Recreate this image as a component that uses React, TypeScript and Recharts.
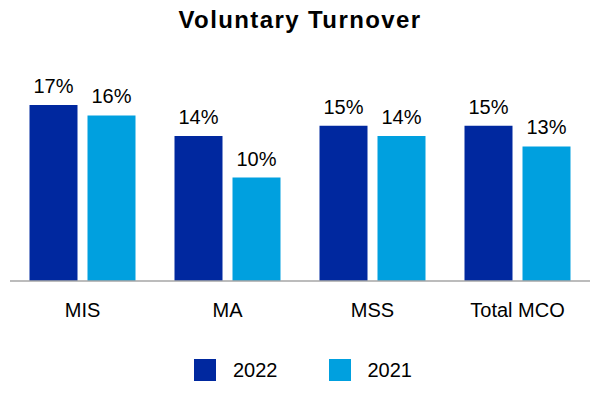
import React from "react"
import {
  BarChart,
  Bar,
  XAxis,
  YAxis,
  Legend,
  LabelList,
} from "recharts"

const categories = ["MIS", "MA", "MSS", "Total MCO"]
const values2022 = [17, 14, 15, 15]
const values2021 = [16, 10, 14, 13]
const seriesNames = ["2022", "2021"]
const seriesColors = ["#00289F", "#00A0DF"]

const data = categories.map((name, i) => ({
  name,
  y2022: values2022[i],
  y2021: values2021[i],
}))

const font = "'Liberation Sans', Arial, sans-serif"

function LegendContent() {
  return (
    <div
      style={{
        height: 40,
        display: "flex",
        alignItems: "center",
        justifyContent: "center",
        paddingLeft: 6,
        fontFamily: font,
        fontSize: 20,
        color: "#000",
      }}
    >
      {seriesNames.map((s, i) => (
        <div
          key={s}
          style={{ display: "flex", alignItems: "center", marginLeft: i === 0 ? 0 : 51 }}
        >
          <span
            style={{
              width: 22,
              height: 22,
              background: seriesColors[i],
              display: "inline-block",
              marginRight: 17,
            }}
          />
          <span>{s}</span>
        </div>
      ))}
    </div>
  )
}

export default function App() {
  return (
    <div style={{ position: "absolute", left: 0, top: 0, width: 600, height: 400, background: "#fff" }}>
      <div
        style={{
          position: "absolute",
          left: 0,
          top: 8,
          width: 600,
          textAlign: "center",
          fontFamily: font,
          fontWeight: "bold",
          fontSize: 24,
          lineHeight: "24px",
          letterSpacing: 1.4,
          color: "#000",
        }}
      >
        Voluntary Turnover
      </div>
      <BarChart
        width={600}
        height={400}
        data={data}
        margin={{ top: 74, right: 10, left: 10, bottom: 10 }}
        barGap={10}
        barCategoryGap={19.5}
      >
        <XAxis
          dataKey="name"
          height={69}
          tickLine={false}
          tickMargin={16}
          axisLine={{ stroke: "#A6A6A6", strokeWidth: 1.5 }}
          tick={{ fill: "#000", fontSize: 20, fontFamily: font }}
        />
        <YAxis hide domain={[0, 20]} />
        <Legend verticalAlign="bottom" content={<LegendContent />} />
        <Bar dataKey="y2022" name="2022" fill={seriesColors[0]} isAnimationActive={false}>
          <LabelList
            dataKey="y2022"
            position="top"
            offset={12}
            formatter={(v: number) => `${v}%`}
            style={{ fill: "#000", fontSize: 20, fontFamily: font }}
          />
        </Bar>
        <Bar dataKey="y2021" name="2021" fill={seriesColors[1]} isAnimationActive={false}>
          <LabelList
            dataKey="y2021"
            position="top"
            offset={12}
            formatter={(v: number) => `${v}%`}
            style={{ fill: "#000", fontSize: 20, fontFamily: font }}
          />
        </Bar>
      </BarChart>
    </div>
  )
}
